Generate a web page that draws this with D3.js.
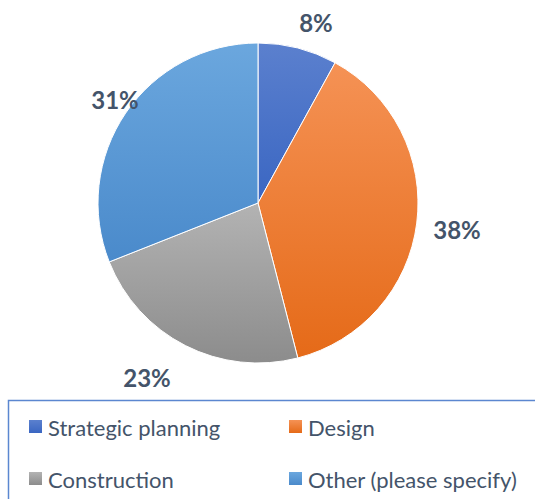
<!DOCTYPE html>
<html>
<head>
<meta charset="utf-8">
<script src="https://cdn.jsdelivr.net/npm/d3@7"></script>
<style>
  body { margin: 0; background: #fff; }
  text { font-family: Lato, "Open Sans", sans-serif; }
</style>
</head>
<body>
<script>
// chart data
var categories = ['Strategic planning', 'Design', 'Construction', 'Other (please specify)'];
var values = [8, 38, 23, 31];
var labels = ['8%', '38%', '23%', '31%'];
var topColors = ['#5b80ce', '#f59255', '#b3b3b3', '#6ba7de'];
var bottomColors = ['#3a66c2', '#e56a18', '#8c8c8c', '#4a8acb'];
var labelPos = [[316, 22], [457, 229], [147, 377], [115, 99]];

(function() {
    var w = 535, h = 499,
        cx = 258, cy = 203, r = 160;

    var svg = d3.select('body').append('svg')
        .attr('width', w)
        .attr('height', h);

    var defs = svg.append('defs');
    categories.forEach(function(c, i) {
        var g = defs.append('linearGradient')
            .attr('id', 'grad' + i)
            .attr('x1', 0).attr('y1', 0).attr('x2', 0).attr('y2', 1);
        g.append('stop').attr('offset', '0%').attr('stop-color', topColors[i]);
        g.append('stop').attr('offset', '100%').attr('stop-color', bottomColors[i]);
    });

    var pie = d3.pie().sort(null).value(function(d) { return d; });
    var arc = d3.arc().innerRadius(0).outerRadius(r);

    var g = svg.append('g').attr('transform', 'translate(' + cx + ',' + cy + ')');
    g.selectAll('path')
        .data(pie(values))
        .enter().append('path')
        .attr('d', arc)
        .attr('fill', function(d, i) { return 'url(#grad' + i + ')'; })
        .attr('stroke', '#fff')
        .attr('stroke-width', 1);

    // data labels
    svg.selectAll('text.lbl')
        .data(labels)
        .enter().append('text')
        .attr('class', 'lbl')
        .attr('x', function(d, i) { return labelPos[i][0]; })
        .attr('y', function(d, i) { return labelPos[i][1]; })
        .attr('text-anchor', 'middle')
        .attr('dominant-baseline', 'central')
        .attr('font-size', 24)
        .attr('font-weight', 'bold')
        .attr('fill', '#44546a')
        .text(function(d) { return d; });

    // legend box
    svg.append('rect')
        .attr('x', 8.5).attr('y', 400.5)
        .attr('width', 540).attr('height', 110)
        .attr('fill', 'none')
        .attr('stroke', '#5b87d0')
        .attr('stroke-width', 1.5);

    var legPos = [[29, 427], [289, 427], [29, 479], [289, 479]];
    var leg = svg.selectAll('g.leg')
        .data(categories)
        .enter().append('g')
        .attr('class', 'leg')
        .attr('transform', function(d, i) { return 'translate(' + legPos[i][0] + ',' + legPos[i][1] + ')'; });
    leg.append('rect')
        .attr('x', 0).attr('y', -7)
        .attr('width', 13).attr('height', 13)
        .attr('fill', function(d, i) { return 'url(#grad' + i + ')'; });
    leg.append('text')
        .attr('x', 19)
        .attr('y', 0)
        .attr('dominant-baseline', 'central')
        .attr('font-size', 22)
        .attr('fill', '#44546a')
        .text(function(d) { return d; });
})();
</script>
</body>
</html>
